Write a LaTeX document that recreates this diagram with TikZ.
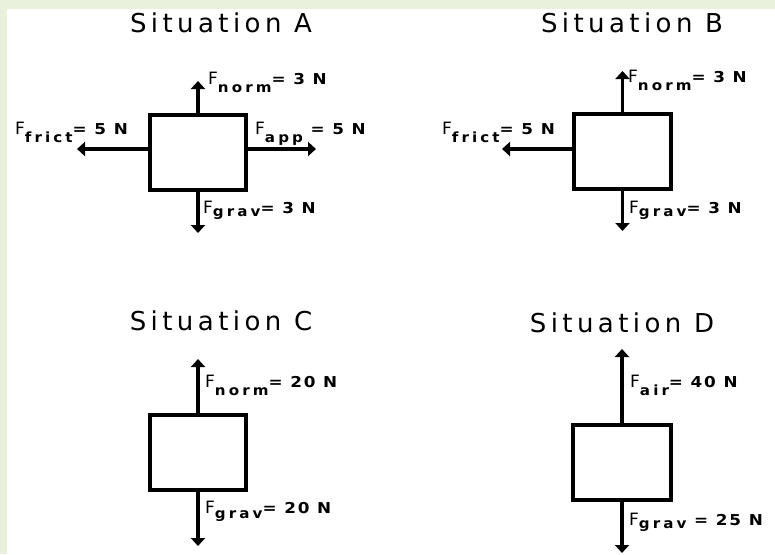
\documentclass[tikz,border=0pt]{standalone}
\usepackage{fontspec}
\usetikzlibrary{arrows.meta}
\setmainfont{DejaVu Sans}
\newfontfamily\ttlfont[LetterSpace=17]{DejaVu Sans}
\newfontfamily\subfont[LetterSpace=22,FakeStretch=1.08]{DejaVu Sans}
\newfontfamily\valfont[LetterSpace=12,FakeStretch=1.12]{DejaVu Sans}
\newcommand\fF{\fontsize{17}{17}\selectfont}
\newcommand\fS{\subfont\fontsize{14}{14}\selectfont\bfseries}
\newcommand\fV{\valfont\fontsize{15}{15}\selectfont\bfseries}
\newcommand\flab[3]{{\fF F}\raisebox{-#1}{\fS #2}{\fV #3}}
\definecolor{pale}{RGB}{233,241,221}
\tikzset{
  blk/.style={draw=black, line width=4pt, fill=white, inner sep=0pt},
  arr/.style={line width=3.5pt, -{Triangle[length=8pt,width=14pt]}},
  ttl/.style={anchor=base, inner sep=0pt, font=\ttlfont\fontsize{26}{26}\selectfont},
  lab/.style={anchor=base west, inner sep=0pt}
}
\begin{document}
\begin{tikzpicture}[x=1pt,y=-1pt]
\useasboundingbox (0,0) rectangle (775,554);
\fill[pale] (0,0) rectangle (775,554);
\fill[white] (7,9) rectangle (775,554);

% titles
\node[ttl] (tA) at (221,32) {Situation A};
\node[ttl] (tB) at (632,32) {Situation B};
\node[ttl] (tC) at (221,330) {Situation C};
\node[ttl] (tD) at (622,332) {Situation D};

% boxes
\node[blk, minimum width=96pt, minimum height=75pt] (boxA) at (198,152.5) {};
\node[blk, minimum width=97pt, minimum height=75pt] (boxB) at (622.5,151.5) {};
\node[blk, minimum width=96pt, minimum height=75pt] (boxC) at (198,452.5) {};
\node[blk, minimum width=98pt, minimum height=75pt] (boxD) at (622,462.5) {};

% arrow end points
\coordinate (pAu) at (198,81);
\coordinate (pAd) at (198,233);
\coordinate (pAl) at (77,149);
\coordinate (pAr) at (316,149);
\coordinate (pBu) at (622.5,71);
\coordinate (pBd) at (622.5,231);
\coordinate (pBl) at (502,149);
\coordinate (pCu) at (198,359);
\coordinate (pCd) at (198,546);
\coordinate (pDu) at (622,349);
\coordinate (pDd) at (622,553);

\draw[arr] (boxA.north) -- (pAu);
\draw[arr] (boxA.south) -- (pAd);
\draw[arr] (boxA.west |- pAl) -- (pAl);
\draw[arr] (boxA.east |- pAr) -- (pAr);
\draw[arr] (boxB.north) -- (pBu);
\draw[arr] (boxB.south) -- (pBd);
\draw[arr] (boxB.west |- pBl) -- (pBl);
\draw[arr] (boxC.north) -- (pCu);
\draw[arr] (boxC.south) -- (pCd);
\draw[arr] (boxD.north) -- (pDu);
\draw[arr] (boxD.south) -- (pDd);

% labels
\node[lab] (lAn) at (208,84) {\flab{8pt}{norm}{= 3 N}};
\node[lab] (lAf) at (15,134) {\flab{8pt}{frict}{= 5 N}};
\node[lab] (lAa) at (255,134) {\flab{8pt}{app}{\ = 5 N}};
\node[lab] (lAg) at (203,213) {\flab{3pt}{grav}{= 3 N}};

\node[lab] (lBn) at (628,82) {\flab{8pt}{norm}{= 3 N}};
\node[lab] (lBf) at (442,134) {\flab{8pt}{frict}{= 5 N}};
\node[lab] (lBg) at (629,213) {\flab{3pt}{grav}{= 3 N}};

\node[lab] (lCn) at (205,387) {\flab{8pt}{norm}{= 20 N}};
\node[lab] (lCg) at (205,513) {\flab{5pt}{grav}{= 20 N}};

\node[lab] (lDa) at (630,387) {\flab{8pt}{air}{= 40 N}};
\node[lab] (lDg) at (629,525) {\flab{3pt}{grav}{\ = 25 N}};
\end{tikzpicture}
\end{document}
